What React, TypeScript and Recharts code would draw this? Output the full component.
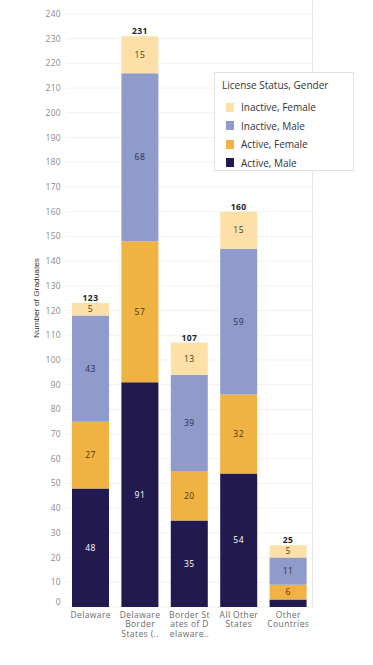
import React from "react";
import { BarChart, Bar, XAxis, YAxis, CartesianGrid, LabelList } from "recharts";

const categories = ["Delaware", "Delaware Border States (..", "Border States of Delaware..", "All Other States", "Other Countries"];
const categoryLines = [
  ["Delaware"],
  ["Delaware", "Border", "States (.."],
  ["Border St", "ates of D", "elaware.."],
  ["All Other", "States"],
  ["Other", "Countries"],
];
const activeMale = [48, 91, 35, 54, 3];
const activeFemale = [27, 57, 20, 32, 6];
const inactiveMale = [43, 68, 39, 59, 11];
const inactiveFemale = [5, 15, 13, 15, 5];
const yTicks = [0, 10, 20, 30, 40, 50, 60, 70, 80, 90, 100, 110, 120, 130, 140, 150, 160, 170, 180, 190, 200, 210, 220, 230, 240];

const series = [
  { key: "activeMale", name: "Active, Male", color: "#221a4e", text: "#ffffff" },
  { key: "activeFemale", name: "Active, Female", color: "#f0b243", text: "#4a3510" },
  { key: "inactiveMale", name: "Inactive, Male", color: "#8e9bcb", text: "#2b2f55" },
  { key: "inactiveFemale", name: "Inactive, Female", color: "#fde0a8", text: "#4a3a20" },
];

const data = categories.map((c, i) => ({
  category: c,
  idx: i,
  activeMale: activeMale[i],
  activeFemale: activeFemale[i],
  inactiveMale: inactiveMale[i],
  inactiveFemale: inactiveFemale[i],
  total: activeMale[i] + activeFemale[i] + inactiveMale[i] + inactiveFemale[i],
}));

const FONT = "'Open Sans', 'Noto Sans', sans-serif";

const YTick = (props: any) => {
  const { x, y, payload } = props;
  const shift = payload.value === 0 ? -5 : 0;
  return (
    <text x={x} y={y + shift} dy={3} textAnchor="end" fontSize={8.5} fill="#8a8a8a" fontFamily={FONT} letterSpacing={0.3}>
      {payload.value}
    </text>
  );
};

const XTick = (props: any) => {
  const { x, y, index } = props;
  const lines = categoryLines[index] || [];
  return (
    <text x={x} y={y} textAnchor="middle" fontSize={8.5} fill="#6a6a6a" fontFamily={FONT} letterSpacing={0.4}>
      {lines.map((l, i) => (
        <tspan key={i} x={x} y={y + 10.5 + i * 9.7}>{l}</tspan>
      ))}
    </text>
  );
};

const makeSegLabel = (color: string) => (props: any) => {
  const { x, y, width, height, value } = props;
  if (value == null || value < 5) return null;
  return (
    <text x={x + width / 2} y={y + height / 2} dy={3} textAnchor="middle" fontSize={8.5} fill={color} fontFamily={FONT} letterSpacing={0.5}>
      {value}
    </text>
  );
};

const TotalLabel = (props: any) => {
  const { x, y, width, index } = props;
  return (
    <text x={x + width / 2} y={y - 2} textAnchor="middle" fontSize={8.5} fontWeight="bold" fill="#222" fontFamily={FONT} letterSpacing={0.4}>
      {data[index].total}
    </text>
  );
};

const LegendBox = () => (
  <div
    style={{
      position: "absolute",
      left: 214,
      top: 72,
      background: "#fff",
      border: "1px solid #e2e2e2",
      boxSizing: "border-box",
      width: 140,
      height: 99,
      padding: "5px 0 0 7px",
      fontFamily: FONT,
      color: "#333",
    }}
  >
    <div style={{ fontSize: 10, lineHeight: "14px", marginBottom: 6, whiteSpace: "nowrap" }}>License Status, Gender</div>
    {[...series].reverse().map((s) => (
      <div key={s.key} style={{ display: "flex", alignItems: "center", height: 18.5 }}>
        <div style={{ width: 8, height: 9, background: s.color, marginLeft: 4, marginRight: 7 }} />
        <span style={{ fontSize: 10, whiteSpace: "nowrap" }}>{s.name}</span>
      </div>
    ))}
  </div>
);

export default function App() {
  return (
    <div style={{ position: "absolute", left: 0, top: 0, width: 373, height: 665, background: "#fff" }}>
      <div style={{ position: "absolute", left: 312, top: 0, width: 1, height: 607, background: "#e6e6e6" }} />
      <BarChart width={373} height={665} data={data} margin={{ top: 14, right: 60, bottom: 0, left: 0 }} barSize={37}>
        <CartesianGrid vertical={false} stroke="#f1f1f1" />
        <XAxis dataKey="category" interval={0} tickLine={false} axisLine={false} tickSize={0} tickMargin={0} height={58} tick={<XTick />} />
        <YAxis
          domain={[0, 240]}
          ticks={yTicks}
          interval={0}
          width={66}
          tickLine={false}
          axisLine={false}
          tickSize={0}
          tickMargin={5}
          tick={<YTick />}
          label={{
            content: () => (
              <text x={39} y={298} transform="rotate(-90 39 298)" textAnchor="middle" fontSize={8} fill="#333" fontFamily="'Liberation Sans', sans-serif" textLength={80} lengthAdjust="spacingAndGlyphs">
                Number of Graduates
              </text>
            ),
          }}
        />
        {series.map((s, i) => (
          <Bar key={s.key} dataKey={s.key} name={s.name} stackId="a" fill={s.color} isAnimationActive={false}>
            <LabelList dataKey={s.key} content={makeSegLabel(s.text)} />
            {i === series.length - 1 ? <LabelList dataKey="total" content={<TotalLabel />} /> : null}
          </Bar>
        ))}
      </BarChart>
      <LegendBox />
    </div>
  );
}
